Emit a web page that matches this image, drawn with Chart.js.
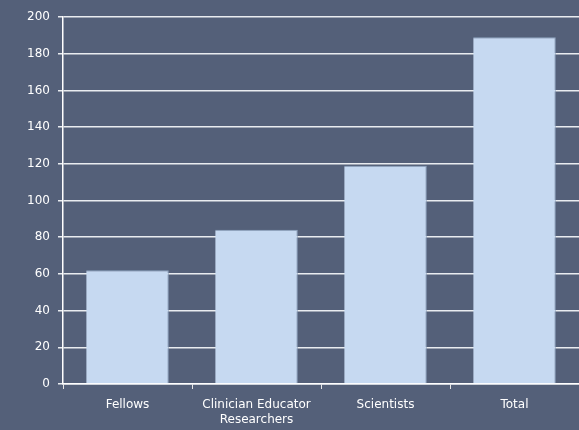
<!DOCTYPE html>
<html>
<head>
<meta charset="utf-8">
<script src="https://cdn.jsdelivr.net/npm/chart.js@4"></script>
<style>
  html, body { margin: 0; padding: 0; background: #546079; }
  #wrap { width: 579px; height: 430px; }
</style>
</head>
<body>
<div id="wrap"><canvas id="chart" width="579" height="430"></canvas></div>
<script>
// Chart data
const categories = ['Fellows', ['Clinician Educator', 'Researchers'], 'Scientists', 'Total'];
const counts = [62, 84, 119, 189];
const yTicks = [0, 20, 40, 60, 80, 100, 120, 140, 160, 180, 200];

const ctx = document.getElementById('chart').getContext('2d');
const chart = new Chart(ctx, {
    type: 'bar',
    data: {
        labels: categories,
        datasets: [{
            label: 'Count',
            data: counts,
            backgroundColor: '#c6d9f1',
            borderColor: '#8fa3bf',
            borderWidth: { top: 1, left: 0, right: 1, bottom: 0 },
            barPercentage: 0.64,
            categoryPercentage: 1
        }]
    },
    options: {
        responsive: false,
        animation: false,
        layout: { padding: { top: 17, right: 0, bottom: 0, left: 0 } },
        plugins: {
            legend: { display: false },
            tooltip: { enabled: false }
        },
        scales: {
            x: {
                grid: {
                    offset: true,
                    drawOnChartArea: false,
                    drawTicks: true,
                    tickLength: 5,
                    color: '#e6e6e6',
                    lineWidth: 1
                },
                border: { color: '#ffffff', width: 1.5 },
                ticks: {
                    color: '#ffffff',
                    font: { family: 'DejaVu Sans', size: 12 },
                    padding: 9,
                    maxRotation: 0
                },
                afterFit: scale => { scale.height = 46; }
            },
            y: {
                min: 0,
                max: 200,
                afterBuildTicks: scale => { scale.ticks = yTicks.map(v => ({ value: v })); },
                grid: {
                    color: '#e9ecf0',
                    lineWidth: 1.5,
                    tickLength: 5
                },
                border: { color: '#ffffff', width: 1.5 },
                ticks: {
                    color: '#ffffff',
                    font: { family: 'DejaVu Sans', size: 12 },
                    padding: 8
                },
                afterFit: scale => { scale.width = 63; }
            }
        }
    }
});
</script>
</body>
</html>
